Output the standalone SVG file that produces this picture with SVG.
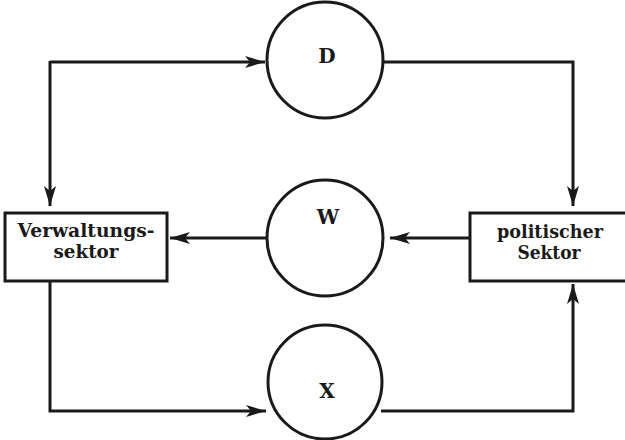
<svg xmlns="http://www.w3.org/2000/svg" width="625" height="440" viewBox="0 0 625 440">
<defs>
<style>
.n{fill:#fff;stroke:#1a1a1a;stroke-width:3}
.c{fill:none;stroke:#1a1a1a;stroke-width:3;stroke-linejoin:miter}
.t{font-family:"DejaVu Serif","Liberation Serif",serif;font-weight:bold;font-size:18px;fill:#1a1a1a;text-anchor:middle}
.l{font-family:"DejaVu Serif","Liberation Serif",serif;font-weight:bold;font-size:20px;fill:#1a1a1a;text-anchor:middle}
</style>
<marker id="a" viewBox="0 0 20 12" refX="20" refY="6" markerWidth="20" markerHeight="12" markerUnits="userSpaceOnUse" orient="auto">
<path d="M0,0 L20,6 L0,12 L5,6 Z" fill="#1a1a1a"/>
</marker>
</defs>
<rect width="625" height="440" fill="#fff"/>
<g id="connectors">
<path class="c" d="M50,62 H265" marker-end="url(#a)"/>
<path class="c" d="M50,61 V206" marker-end="url(#a)"/>
<path class="c" d="M383,62 H573 V206" marker-end="url(#a)"/>
<path class="c" d="M470,238 H390" marker-end="url(#a)"/>
<path class="c" d="M267,238 H170" marker-end="url(#a)"/>
<path class="c" d="M50,281 V411 H266" marker-end="url(#a)"/>
<path class="c" d="M381,411 H573 V284" marker-end="url(#a)"/>
</g>
<g id="D"><circle class="n" cx="325" cy="60" r="58"/><text class="l" x="327" y="63">D</text></g>
<g id="W"><circle class="n" cx="325" cy="238" r="58"/><text class="l" x="328" y="224">W</text></g>
<g id="X"><circle class="n" cx="325" cy="382" r="57"/><text class="l" x="327" y="398">X</text></g>
<g id="verwaltung"><rect class="n" x="5" y="213" width="162" height="68"/><text class="t" x="86" y="237" textLength="137" lengthAdjust="spacingAndGlyphs">Verwaltungs-</text><text class="t" x="86" y="258" textLength="65" lengthAdjust="spacingAndGlyphs">sektor</text></g>
<g id="politik"><rect class="n" x="470" y="213" width="160" height="68"/><text class="t" x="550" y="238" textLength="106" lengthAdjust="spacingAndGlyphs">politischer</text><text class="t" x="549" y="259" textLength="63" lengthAdjust="spacingAndGlyphs">Sektor</text></g>
</svg>
